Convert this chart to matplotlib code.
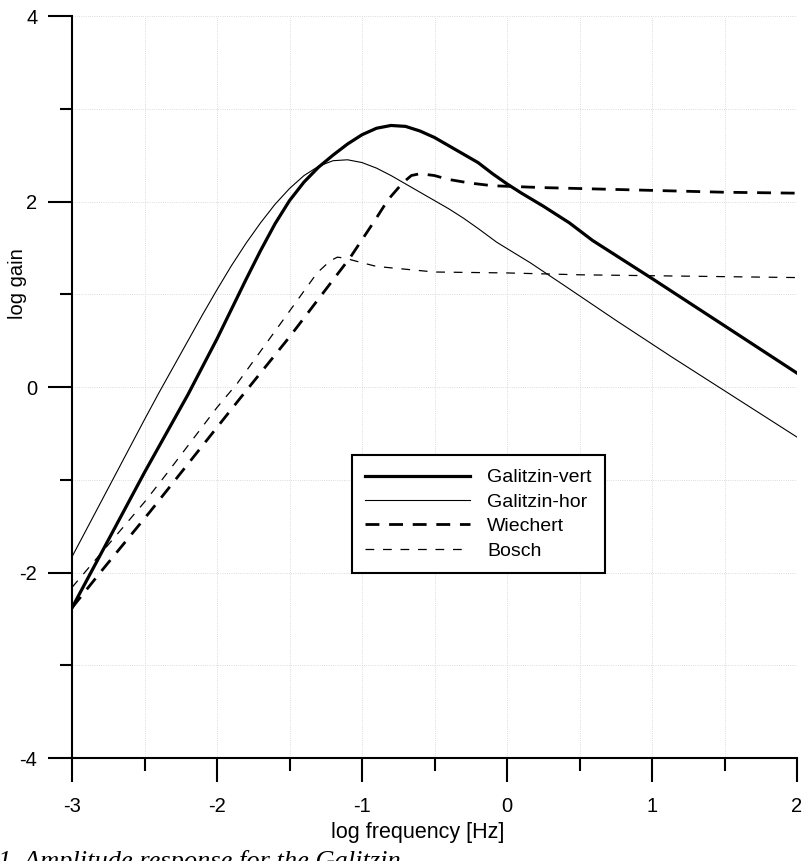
import matplotlib
matplotlib.use('Agg')
import matplotlib.pyplot as plt
from matplotlib.ticker import MultipleLocator

plt.rcParams['font.family'] = ['Liberation Sans', 'DejaVu Sans']
plt.rcParams['axes.unicode_minus'] = False

# werte (log f, log gain)
galvert_x = [-3.0, -2.5, -2.2, -2.0, -1.9, -1.8, -1.7, -1.6, -1.5, -1.4, -1.3, -1.2, -1.1,
             -1.0, -0.9, -0.8, -0.7, -0.6, -0.5, -0.4, -0.3, -0.2, -0.1, 0.0, 0.1, 0.25,
             0.43, 0.59, 1.0, 1.52, 2.0]
galvert_y = [-2.38, -0.92, -0.08, 0.52, 0.84, 1.16, 1.47, 1.76, 2.01, 2.21, 2.37, 2.50, 2.62,
             2.72, 2.79, 2.82, 2.81, 2.76, 2.69, 2.60, 2.51, 2.42, 2.30, 2.19, 2.09, 1.95,
             1.77, 1.58, 1.17, 0.64, 0.15]

galhor_x = [-3.0, -2.5, -2.4, -2.3, -2.2, -2.1, -2.0, -1.9, -1.8, -1.7, -1.6, -1.5, -1.4,
            -1.3, -1.2, -1.1, -1.0, -0.9, -0.8, -0.7, -0.6, -0.5, -0.4, -0.3, -0.2, -0.07,
            0.16, 0.39, 0.75, 1.14, 1.5, 2.0]
galhor_y = [-1.83, -0.35, -0.06, 0.22, 0.50, 0.78, 1.05, 1.31, 1.55, 1.77, 1.97, 2.14, 2.28,
            2.38, 2.44, 2.45, 2.42, 2.36, 2.28, 2.19, 2.10, 2.01, 1.92, 1.82, 1.71, 1.56,
            1.34, 1.10, 0.72, 0.32, -0.04, -0.54]

wiech_x = [-3.0, -2.79, -2.46, -2.15, -1.84, -1.5, -1.29, -1.08, -0.91, -0.82, -0.72, -0.66,
           -0.6, -0.5, -0.41, -0.26, -0.1, 0.25, 0.5, 1.0, 1.5, 2.0]
wiech_y = [-2.38, -1.97, -1.34, -0.73, -0.12, 0.54, 0.97, 1.40, 1.80, 2.02, 2.20, 2.28,
           2.30, 2.28, 2.24, 2.20, 2.17, 2.15, 2.14, 2.12, 2.10, 2.09]

bosch_x = [-3.0, -2.5, -2.345, -2.0, -1.86, -1.61, -1.43, -1.31, -1.22, -1.17, -1.12, -1.0,
           -0.9, -0.5, 0.0, 0.5, 1.0, 1.5, 2.0]
bosch_y = [-2.16, -1.24, -0.93, -0.22, 0.04, 0.58, 0.97, 1.23, 1.36, 1.40, 1.39, 1.34,
           1.30, 1.24, 1.23, 1.21, 1.20, 1.19, 1.18]

fig = plt.figure(figsize=(8.04, 8.61), dpi=100)
ax = fig.add_axes([0.0896, 0.1196, 0.9017, 0.8618])

ax.plot(galvert_x, galvert_y, color='black', lw=2.3, label='Galitzin-vert')
ax.plot(galhor_x, galhor_y, color='black', lw=0.8, label='Galitzin-hor')
ax.plot(wiech_x, wiech_y, color='black', lw=2.0, dashes=(5, 3.5), label='Wiechert')
ax.plot(bosch_x, bosch_y, color='black', lw=0.9, dashes=(7, 7), label='Bosch')

ax.set_xlim(-3, 2)
ax.set_ylim(-4, 4)
ax.xaxis.set_major_locator(MultipleLocator(1))
ax.xaxis.set_minor_locator(MultipleLocator(0.5))
ax.yaxis.set_major_locator(MultipleLocator(2))
ax.yaxis.set_minor_locator(MultipleLocator(1))

ax.grid(True, which='both', color='#cfcfcf', ls=':', lw=0.6)
for s in ['top', 'right']:
    ax.spines[s].set_visible(False)
for s in ['left', 'bottom']:
    ax.spines[s].set_linewidth(1.5)

ax.tick_params(which='major', direction='out', length=17, width=1.5, labelsize=14.5)
ax.tick_params(axis='x', which='major', pad=11)
ax.tick_params(axis='y', which='major', pad=8)
ax.tick_params(which='minor', direction='out', length=9, width=1.5)

ax.set_xlabel('log frequency [Hz]', fontsize=15.5)
ax.set_ylabel('log gain', fontsize=14.5)
ax.xaxis.set_label_coords(0.4766, -0.086)
ax.yaxis.set_label_coords(-0.062, 0.64)

leg = ax.legend(loc='lower left', bbox_to_anchor=(0.386, 0.249), borderaxespad=0,
                fontsize=14, handlelength=5.4, handletextpad=0.85, labelspacing=0.35,
                fancybox=False, framealpha=1, edgecolor='black', borderpad=0.7)
leg.get_frame().set_linewidth(1.5)

fig.text(-0.003, -0.008, '1. Amplitude response for the Galitzin', fontsize=19,
         family='Liberation Serif', style='italic', va='baseline')

plt.savefig('out.png', dpi=100)
